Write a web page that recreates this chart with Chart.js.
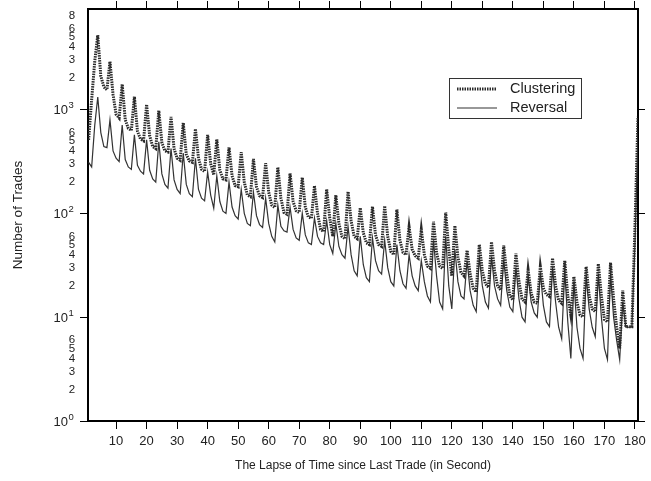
<!DOCTYPE html>
<html><head><meta charset="utf-8">
<script src="https://cdn.jsdelivr.net/npm/chart.js@4/dist/chart.umd.min.js"></script>
<style>html,body{margin:0;padding:0;background:#fff}canvas{display:block}</style>
</head><body>
<canvas id="c" width="651" height="481"></canvas>
<script>
const seconds = Array.from({length: 181}, (_, i) => i + 1);

const clustering = [
  510,1250,2900,5200,2100,1650,1550,2900,1400,900,
  830,1750,800,660,630,1330,620,520,500,1120,
  560,440,420,975,480,400,390,850,420,340,
  325,745,370,320,310,650,340,265,253,570,
  300,235,518,260,215,210,433,230,185,180,
  388,200,150,145,334,180,148,142,304,160,
  120,114,278,140,102,98,243,130,106,102,
  221,115,92,90,184,100,70,67,171,90,
  60,150,80,60,57,162,85,60,57,113,
  65,52,50,116,62,50,48,118,60,43,
  40,109,55,42,40,74,45,39,37,70,
  40,31,29.5,83,42,31,29.5,102,45,25,
  76,38,27,25,44,26,19,17.5,50,28,
  21,19.4,53,28,20,18.3,49,26,16,14.7,
  41,22,15,14,28.5,17,14,13.6,30.7,19,
  16.5,15.8,37,20,14.5,13.6,35,16,10.5,24.6,
  14,10.5,10.1,30.7,16,12,11.3,32.6,16,9.5,
  9,33.5,15,8.1,5,18,8.1,8.1,8.1,74,
  850
];

const reversal = [
  310,280,700,1320,600,440,430,795,400,340,
  315,710,330,280,265,570,290,255,240,510,
  260,215,200,490,240,190,175,420,210,170,
  155,380,190,155,145,340,170,140,132,250,
  150,112,230,130,105,100,200,115,95,88,
  170,100,80,76,160,95,78,73,140,80,
  60,53,120,75,68,66,115,70,58,55,
  100,62,52,50,90,60,52,50,85,50,
  41,80,48,40,37,75,40,28,25,60,
  32,24,22,58,35,28,26,55,30,22,
  20,50,28,21,19,40,25,20,18,35,
  22,16,14,55,25,14,12,60,20,12,
  45,22,16,15,35,18,13,11.3,38,20,
  14,12.2,38,20,15,13,36,18,12.5,11.3,
  30,15,10,9,25,14,11,10,27,13,
  9,8.1,30,14,8,6.2,28,9,4,22,
  8,5,4,25,12,8,6.5,26,10,5,
  3.9,26,10,6,3.9,14,8,8,8,50,
  600
];

const seriesNames = ['Clustering', 'Reversal'];
const xTickValues = [10,20,30,40,50,60,70,80,90,100,110,120,130,140,150,160,170,180];
const yTickValues = [1,2,3,4,5,6,10,20,30,40,50,60,100,200,300,400,500,600,1000,2000,3000,4000,5000,6000,8000];
const yTickLabels = ['10^0','2','3','4','5','6','10^1','2','3','4','5','6','10^2','2','3','4','5','6','10^3','2','3','4','5','6','8'];
const yDecades = [1,10,100,1000];
const xTitle = 'The Lapse of Time since Last Trade (in Second)';
const yTitle = 'Number of Trades';

const isDecade = v => yDecades.some(d => Math.abs(d - v) < 1e-9);
const textColor = '#222';
const FONT = '"Liberation Sans", Arial, sans-serif';

const yLabelPlugin = {
  id: 'yLabels',
  afterDraw(chart) {
    const ctx = chart.ctx;
    const sc = chart.scales.y;
    ctx.save();
    ctx.fillStyle = textColor;
    ctx.textBaseline = 'middle';
    yTickValues.forEach((v, i) => {
      const py = sc.getPixelForValue(v);
      const lab = yTickLabels[i];
      if (lab.includes('^')) {
        const [b, e] = lab.split('^');
        ctx.font = '13px ' + FONT;
        ctx.textAlign = 'right';
        ctx.fillText(b, 68, py + 1);
        ctx.font = '9.5px ' + FONT;
        ctx.textAlign = 'left';
        ctx.fillText(e, 68.5, py - 4);
      } else {
        ctx.font = '11.5px ' + FONT;
        ctx.textAlign = 'center';
        ctx.fillText(lab, 72, py);
      }
    });
    ctx.restore();
  }
};

const legendPlugin = {
  id: 'boxLegend',
  afterDraw(chart) {
    const ctx = chart.ctx;
    ctx.save();
    ctx.fillStyle = '#fff';
    ctx.fillRect(449.5, 78.5, 132, 40);
    ctx.strokeStyle = '#333';
    ctx.lineWidth = 1;
    ctx.strokeRect(449.5, 78.5, 132, 40);
    const rows = [89, 108];
    chart.data.datasets.forEach((ds, i) => {
      const y = rows[i];
      ctx.strokeStyle = ds.borderColor;
      ctx.lineWidth = ds.borderWidth;
      ctx.setLineDash(ds.borderDash || []);
      ctx.beginPath();
      ctx.moveTo(457, y);
      ctx.lineTo(497, y);
      ctx.stroke();
      ctx.setLineDash([]);
      ctx.fillStyle = textColor;
      ctx.font = '14.5px ' + FONT;
      ctx.textAlign = 'left';
      ctx.textBaseline = 'middle';
      ctx.fillText(ds.label, 510, y);
    });
    ctx.restore();
  }
};

const pts = arr => arr.map((v, i) => ({x: seconds[i], y: v}));

const axisBorder = {display: true, color: '#000', width: 2};

new Chart(document.getElementById('c'), {
  type: 'line',
  data: {
    datasets: [
      {label: seriesNames[0], data: pts(clustering), borderColor: '#2a2a2a', borderWidth: 3,
       borderDash: [1.5, 1], pointRadius: 0, tension: 0, xAxisID: 'x', yAxisID: 'y'},
      {label: seriesNames[1], data: pts(reversal), borderColor: '#333', borderWidth: 1.2,
       pointRadius: 0, tension: 0, xAxisID: 'x', yAxisID: 'y'}
    ]
  },
  options: {
    responsive: false,
    animation: false,
    devicePixelRatio: 1,
    layout: {padding: 0},
    plugins: {legend: {display: false}, tooltip: {enabled: false}},
    scales: {
      x: {
        type: 'linear', position: 'bottom', min: 0.8, max: 181,
        afterBuildTicks: s => { s.ticks = xTickValues.map(v => ({value: v})); },
        afterFit: s => { s.height = 60; },
        ticks: {color: textColor, font: {size: 13, family: FONT}, padding: 5,
                maxRotation: 0, autoSkip: false, callback: v => String(v)},
        grid: {drawOnChartArea: false, drawTicks: true, tickLength: 8, color: '#000', tickColor: '#000', lineWidth: 1},
        border: axisBorder,
        title: {display: true, text: xTitle, color: textColor,
                font: {size: 12, family: FONT}, padding: {top: 0, bottom: 8}}
      },
      xTop: {
        type: 'linear', position: 'top', min: 0.8, max: 181,
        afterBuildTicks: s => { s.ticks = xTickValues.map(v => ({value: v})); },
        afterFit: s => { s.height = 9; },
        ticks: {display: false},
        grid: {drawOnChartArea: false, drawTicks: true, tickLength: 8, color: '#000', tickColor: '#000', lineWidth: 1},
        border: axisBorder
      },
      y: {
        type: 'logarithmic', position: 'left', min: 1, max: 9300,
        afterBuildTicks: s => { s.ticks = yTickValues.map(v => ({value: v})); },
        afterFit: s => { s.width = 88; },
        ticks: {display: false},
        grid: {drawOnChartArea: false, drawTicks: true, tickLength: 8, lineWidth: 1,
               color: c => (c.tick && isDecade(c.tick.value)) ? '#000' : 'rgba(0,0,0,0)',
               tickColor: c => (c.tick && isDecade(c.tick.value)) ? '#000' : 'rgba(0,0,0,0)'},
        border: axisBorder,
        title: {display: true, text: yTitle, color: textColor,
                font: {size: 13.5, family: FONT}, padding: {top: 10, bottom: 0}}
      },
      y2: {
        type: 'logarithmic', position: 'right', min: 1, max: 9300,
        afterBuildTicks: s => { s.ticks = yDecades.map(v => ({value: v})); },
        afterFit: s => { s.width = 13; },
        ticks: {display: false},
        grid: {drawOnChartArea: false, drawTicks: true, tickLength: 7, color: '#000', tickColor: '#000', lineWidth: 1},
        border: axisBorder
      }
    }
  },
  plugins: [yLabelPlugin, legendPlugin]
});
</script>
</body></html>
